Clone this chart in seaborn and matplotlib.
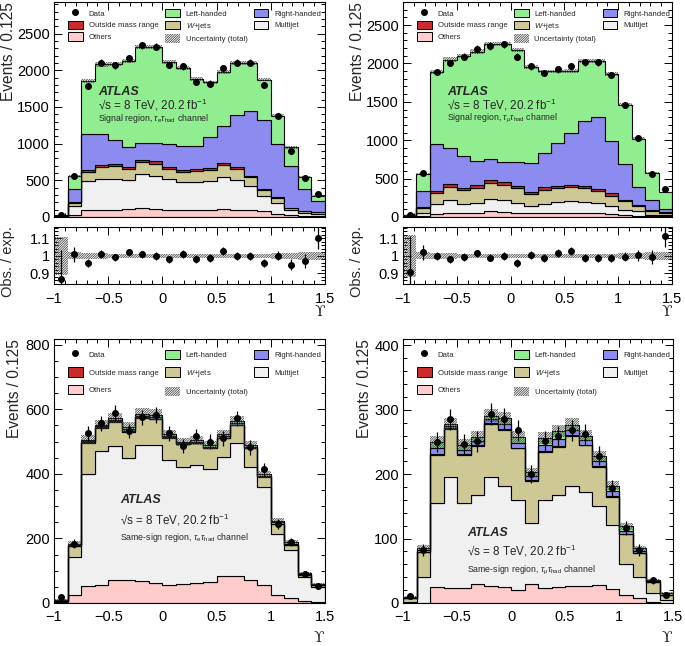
import numpy as np
import pandas as pd
import matplotlib
matplotlib.use("Agg")
import matplotlib.pyplot as plt
import matplotlib.ticker as ticker
from matplotlib.patches import Patch
from matplotlib.lines import Line2D
import seaborn as sns

# binning in Upsilon
edges = np.linspace(-1.0, 1.5, 21)
centers = 0.5 * (edges[:-1] + edges[1:])

# ---- signal region, tau_e tau_had ----
tl_others = [5, 23, 91, 91, 100, 105, 127, 114, 95, 91, 100, 100, 105, 91, 91, 82, 45, 23, 9, 9]
tl_multijet = [4, 122, 395, 423, 414, 395, 459, 445, 419, 382, 377, 386, 440, 409, 336, 200, 150, 68, 50, 36]
tl_wjets = [1, 46, 128, 168, 181, 159, 164, 168, 136, 145, 150, 150, 164, 154, 118, 91, 69, 32, 23, 23]
tl_outside = [1, 12, 20, 25, 25, 25, 28, 30, 30, 22, 25, 25, 28, 25, 20, 12, 8, 6, 5, 4]
tl_right = [9, 183, 502, 429, 325, 271, 236, 257, 310, 328, 316, 430, 499, 716, 876, 933, 718, 566, 299, 146]
tl_left = [10, 173, 719, 946, 1037, 1168, 1304, 1304, 1124, 1064, 914, 745, 737, 710, 664, 555, 387, 255, 159, 68]
tl_data = [26, 565, 1781, 2103, 2065, 2165, 2341, 2318, 2072, 2052, 1844, 1818, 2032, 2105, 2105, 1798, 1380, 902, 529, 315]
tl_unc = [0.11, 0.02, 0.015, 0.015, 0.013, 0.013, 0.013, 0.013, 0.013, 0.013, 0.013, 0.013, 0.013, 0.013, 0.013, 0.013, 0.015, 0.018, 0.022, 0.025]

# ---- signal region, tau_mu tau_had ----
tr_others = [4, 13, 43, 52, 52, 56, 73, 65, 56, 52, 56, 56, 56, 56, 52, 43, 30, 17, 9, 9]
tr_multijet = [4, 43, 121, 164, 112, 129, 164, 151, 129, 86, 108, 138, 147, 138, 129, 99, 65, 56, 21, 13]
tr_wjets = [1, 60, 146, 181, 189, 194, 203, 206, 194, 164, 189, 185, 185, 185, 155, 138, 108, 65, 43, 30]
tr_outside = [1, 13, 33, 27, 27, 35, 40, 32, 30, 28, 32, 30, 30, 30, 30, 28, 21, 20, 12, 10]
tr_right = [10, 216, 614, 481, 417, 319, 274, 266, 311, 368, 443, 561, 681, 841, 940, 683, 466, 230, 131, 46]
tr_left = [2, 215, 931, 1142, 1302, 1422, 1496, 1530, 1457, 1254, 1068, 926, 806, 784, 728, 875, 775, 633, 353, 215]
tr_data = [20, 571, 1888, 2006, 2089, 2187, 2228, 2250, 2090, 1962, 1877, 1924, 1962, 2014, 2014, 1847, 1458, 1026, 566, 359]
tr_unc = [0.12, 0.02, 0.015, 0.015, 0.013, 0.013, 0.013, 0.013, 0.013, 0.013, 0.013, 0.013, 0.013, 0.013, 0.013, 0.013, 0.015, 0.018, 0.022, 0.025]

# ---- same-sign region, tau_e tau_had ----
bl_others = [3, 24, 53, 55, 72, 72, 67, 62, 57, 60, 62, 65, 84, 84, 70, 57, 24, 16, 6, 3]
bl_multijet = [2, 119, 347, 417, 414, 376, 423, 428, 386, 362, 365, 349, 369, 411, 352, 301, 191, 148, 75, 47]
bl_wjets = [2, 33, 97, 71, 76, 83, 84, 80, 69, 70, 68, 65, 57, 57, 57, 33, 31, 15, 7, 5]
bl_outside = [0, 0, 1, 1, 1, 1, 1, 1, 1, 1, 1, 1, 1, 1, 1, 1, 0, 0, 0, 0]
bl_right = [1, 3, 4, 4, 5, 6, 5, 6, 4, 3, 4, 4, 5, 5, 4, 3, 4, 4, 2, 2]
bl_left = [2, 5, 4, 5, 6, 8, 7, 7, 6, 3, 4, 5, 7, 6, 5, 4, 5, 6, 3, 3]
bl_data = [19, 184, 526, 557, 588, 533, 575, 583, 526, 486, 517, 500, 510, 572, 482, 414, 246, 189, 91, 53]
bl_unc = [3, 8, 14, 15, 16, 15, 16, 16, 14, 13, 14, 13, 14, 15, 13, 11, 8, 6, 4, 3]

# ---- same-sign region, tau_mu tau_had ----
br_others = [0, 0, 25, 23, 23, 30, 26, 25, 20, 30, 23, 25, 26, 26, 28, 21, 12, 7, 2, 0]
br_multijet = [2, 41, 130, 173, 132, 138, 170, 156, 140, 95, 137, 143, 155, 147, 122, 100, 49, 34, 13, 5]
br_wjets = [6, 38, 75, 75, 75, 76, 82, 88, 80, 65, 75, 75, 79, 72, 61, 44, 46, 36, 18, 7]
br_outside = [0, 0, 1, 1, 1, 1, 1, 1, 1, 1, 1, 1, 1, 1, 1, 1, 0, 0, 0, 0]
br_right = [0, 3, 9, 3, 7, 6, 6, 8, 8, 6, 10, 11, 8, 7, 8, 8, 5, 4, 1, 1]
br_left = [1, 4, 10, 3, 8, 7, 6, 9, 9, 6, 10, 12, 8, 7, 8, 8, 7, 4, 2, 2]
br_data = [11, 82, 250, 285, 247, 251, 294, 286, 268, 200, 251, 259, 268, 262, 229, 178, 117, 82, 35, 12]
br_unc = [2, 4, 9, 9, 8, 9, 10, 10, 9, 7, 9, 9, 10, 9, 8, 7, 5, 4, 2, 2]

comp_names = ["Left-handed", "Right-handed", "Outside mass range", "W+jets", "Multijet", "Others"]
comp_colors = ["#90ee90", "#8c8cf0", "#cc2a2a", "#cdc894", "#f0f0f0", "#ffcccc"]
palette = dict(zip(comp_names, comp_colors))
HATCH = "/" * 14

sns.set_theme(style="ticks")
plt.rcParams["font.family"] = ["Liberation Sans", "DejaVu Sans"]
plt.rcParams["mathtext.fontset"] = "custom"
plt.rcParams["mathtext.rm"] = "Liberation Sans"
plt.rcParams["mathtext.it"] = "Liberation Sans:italic"
plt.rcParams["hatch.linewidth"] = 0.55
plt.rcParams["axes.linewidth"] = 0.8


def fmt(v, pos):
    s = f"{v:g}"
    return s.replace("-", "\u2212")


def style_axis(ax, ymajor, yminor, xpad):
    ax.xaxis.set_major_locator(ticker.MultipleLocator(0.5))
    ax.xaxis.set_minor_locator(ticker.MultipleLocator(0.1))
    ax.yaxis.set_major_locator(ticker.MultipleLocator(ymajor))
    ax.yaxis.set_minor_locator(ticker.MultipleLocator(yminor))
    ax.xaxis.set_major_formatter(ticker.FuncFormatter(fmt))
    ax.yaxis.set_major_formatter(ticker.FuncFormatter(fmt))
    ax.tick_params(which="both", direction="in", top=True, right=True, colors="black",
                   labelsize=10.5, width=0.7)
    ax.tick_params(axis="y", pad=3)
    ax.tick_params(axis="x", pad=xpad)
    ax.tick_params(which="major", length=6)
    ax.tick_params(which="minor", length=3)
    ax.set_xlim(-1, 1.5)
    for sp in ax.spines.values():
        sp.set_color("black")


def draw_main(ax, comps, data, unc_abs, ymax, ymajor, yminor):
    values = dict(zip(comp_names, comps))
    df = pd.DataFrame({
        "x": np.tile(centers, len(comp_names)),
        "w": np.concatenate([values[n] for n in comp_names]).astype(float),
        "comp": np.repeat(comp_names, len(centers)),
    })
    sns.histplot(data=df, x="x", weights="w", hue="comp", hue_order=comp_names,
                 palette=palette, multiple="stack", bins=edges.tolist(), element="step",
                 alpha=1, edgecolor="black", linewidth=0.8, legend=False, ax=ax)
    total = np.sum(comps, axis=0).astype(float)
    lo = total - unc_abs
    hi = total + unc_abs
    ax.fill_between(edges, np.append(lo, lo[-1]), np.append(hi, hi[-1]), step="post",
                    facecolor="none", edgecolor="0.25", hatch=HATCH, linewidth=0, zorder=5)
    d = np.array(data, dtype=float)
    ax.errorbar(centers, d, yerr=np.sqrt(d), fmt="o", color="black", ms=4,
                elinewidth=0.9, capsize=0, zorder=6)
    style_axis(ax, ymajor, yminor, 5)
    ax.set_ylim(0, ymax)
    ax.set_xlabel("")
    ax.set_ylabel("")
    return total


def draw_ratio(ax, total, data, unc_rel):
    d = np.array(data, dtype=float)
    r = d / total
    u = np.array(unc_rel)
    lo = 1 - u
    hi = 1 + u
    ax.fill_between(edges, np.append(lo, lo[-1]), np.append(hi, hi[-1]), step="post",
                    facecolor="none", edgecolor="0.25", hatch=HATCH, linewidth=0, zorder=2)
    ax.errorbar(centers, r, yerr=np.sqrt(d) / total, fmt="o", color="black", ms=4,
                elinewidth=0.9, capsize=0, zorder=6)
    style_axis(ax, 0.1, 0.02, 6)
    ax.set_ylim(0.84, 1.165)


def add_legend(ax, x0, y0, hh, ls, fs=5.6):
    handles = [
        Line2D([], [], marker="o", color="black", ls="none", ms=4),
        Patch(facecolor=palette["Outside mass range"], edgecolor="black", lw=0.7),
        Patch(facecolor=palette["Others"], edgecolor="black", lw=0.7),
        Patch(facecolor=palette["Left-handed"], edgecolor="black", lw=0.7),
        Patch(facecolor=palette["W+jets"], edgecolor="black", lw=0.7),
        Patch(facecolor="none", edgecolor="0.25", hatch=HATCH, lw=0),
        Patch(facecolor=palette["Right-handed"], edgecolor="black", lw=0.7),
        Patch(facecolor=palette["Multijet"], edgecolor="black", lw=0.7),
    ]
    labels = ["Data", "Outside mass range", "Others", "Left-handed", "$W$+jets",
              "Uncertainty (total)", "Right-handed", "Multijet"]
    ax.legend(handles, labels, ncol=3, loc="upper left", bbox_to_anchor=(x0, y0),
              frameon=False, fontsize=fs, handlelength=1.9, handleheight=hh,
              handletextpad=0.77, columnspacing=0.8, labelspacing=ls, borderpad=0,
              borderaxespad=0)


def add_atlas(ax, x, ys, region):
    ax.text(x, ys[0], "ATLAS", transform=ax.transAxes, fontsize=9, fontweight="bold",
            fontstyle="italic", ha="left", va="center", zorder=7)
    ax.text(x, ys[1], "\u221as = 8 TeV, 20.2 fb$^{-1}$", transform=ax.transAxes,
            fontsize=8.4, ha="left", va="center", zorder=7)
    ax.text(x, ys[2], region, transform=ax.transAxes, fontsize=6.3, ha="left",
            va="center", zorder=7)


fig = plt.figure(figsize=(6.85, 6.46), dpi=100)
W, H = 685.0, 646.0


def axes_px(x0, y0, x1, y1):
    return fig.add_axes([x0 / W, 1 - y1 / H, (x1 - x0) / W, (y1 - y0) / H])


# top-left
ax_tl = axes_px(54, 2, 325, 217)
ax_tlr = axes_px(54, 227, 325, 284)
tl_comps = [tl_left, tl_right, tl_outside, tl_wjets, tl_multijet, tl_others]
tot = draw_main(ax_tl, tl_comps, tl_data, np.array(tl_unc) * np.sum(tl_comps, axis=0),
                2930, 500, 100)
draw_ratio(ax_tlr, tot, tl_data, tl_unc)
ax_tl.tick_params(labelbottom=False)
add_legend(ax_tl, 0.052, 0.967, 1.28, 0.36)
add_atlas(ax_tl, 0.162, [0.581, 0.521, 0.46],
          r"Signal region, $\tau_{\mathrm{e}}\tau_{\mathrm{had}}$ channel")

# top-right
ax_tr = axes_px(403, 2, 672, 217)
ax_trr = axes_px(403, 227, 672, 284)
tr_comps = [tr_left, tr_right, tr_outside, tr_wjets, tr_multijet, tr_others]
tot = draw_main(ax_tr, tr_comps, tr_data, np.array(tr_unc) * np.sum(tr_comps, axis=0),
                2800, 500, 100)
draw_ratio(ax_trr, tot, tr_data, tr_unc)
ax_tr.tick_params(labelbottom=False)
add_legend(ax_tr, 0.052, 0.967, 1.28, 0.36)
add_atlas(ax_tr, 0.164, [0.581, 0.521, 0.46],
          r"Signal region, $\tau_{\mu}\tau_{\mathrm{had}}$ channel")

# bottom-left
ax_bl = axes_px(54, 339, 325, 603)
draw_main(ax_bl, [bl_left, bl_right, bl_outside, bl_wjets, bl_multijet, bl_others],
          bl_data, np.array(bl_unc), 818, 200, 50)
add_legend(ax_bl, 0.052, 0.96, 1.45, 1.1)
add_atlas(ax_bl, 0.244, [0.39, 0.314, 0.25],
          r"Same-sign region, $\tau_{\mathrm{e}}\tau_{\mathrm{had}}$ channel")

# bottom-right
ax_br = axes_px(403, 339, 673, 603)
draw_main(ax_br, [br_left, br_right, br_outside, br_wjets, br_multijet, br_others],
          br_data, np.array(br_unc), 410, 100, 20)
add_legend(ax_br, 0.052, 0.96, 1.45, 1.1)
add_atlas(ax_br, 0.237, [0.265, 0.197, 0.125],
          r"Same-sign region, $\tau_{\mu}\tau_{\mathrm{had}}$ channel")

# axis titles
for ax, xl in [(ax_tl, -0.14), (ax_tr, -0.141), (ax_bl, -0.118), (ax_br, -0.115)]:
    ax.set_ylabel("Events / 0.125", loc="top", fontsize=11.2)
    ax.yaxis.set_label_coords(xl, 1.0)
for ax in [ax_tlr, ax_trr]:
    ax.set_ylabel("Obs. / exp.", loc="top", fontsize=10.5)
    ax.yaxis.set_label_coords(-0.144, 1.02)
    ax.text(0.98, -0.5, "\u03d2", transform=ax.transAxes, fontsize=11,
            family=["DejaVu Serif"], ha="center", va="center")
for ax in [ax_bl, ax_br]:
    ax.text(0.977, -0.133, "\u03d2", transform=ax.transAxes, fontsize=11,
            family=["DejaVu Serif"], ha="center", va="center")

fig.savefig("out.png", dpi=100)
